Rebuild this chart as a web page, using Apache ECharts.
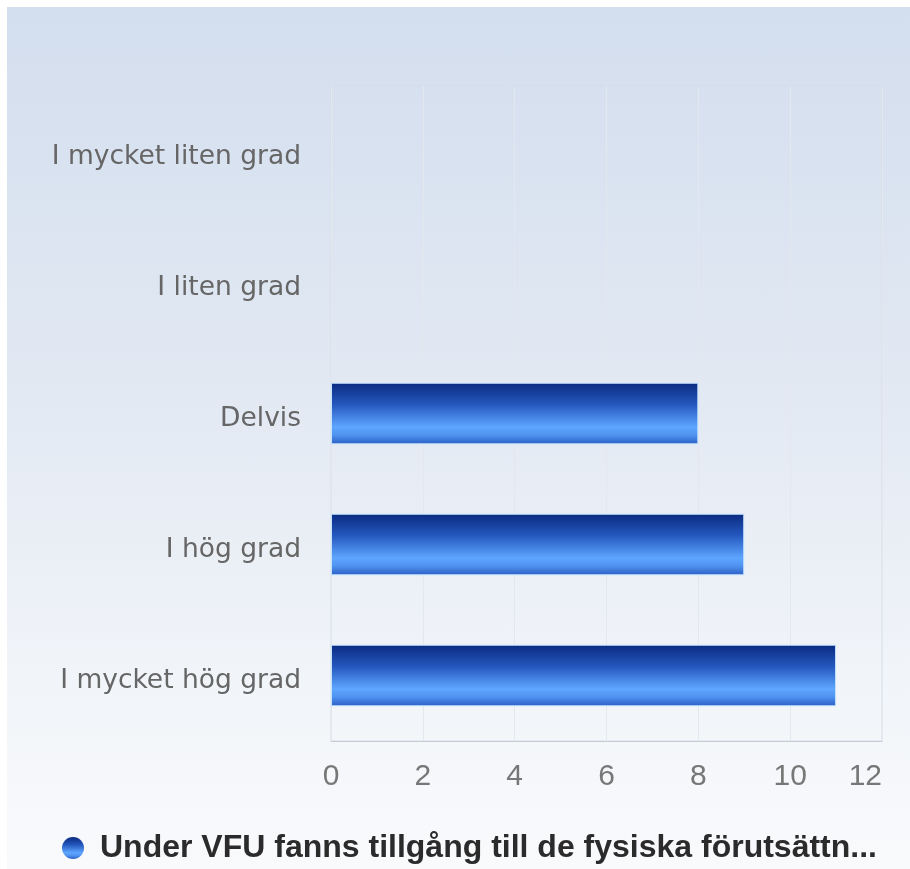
<!DOCTYPE html>
<html>
<head>
<meta charset="utf-8">
<script src="https://cdn.jsdelivr.net/npm/echarts@6/dist/echarts.min.js"></script>
<style>
  html, body { margin: 0; padding: 0; background: #ffffff; }
  #bg { position: absolute; left: 7px; top: 7px; width: 903px; height: 862px;
        background: linear-gradient(to bottom, #d3deee 0%, #e2e9f3 45%, #f2f5f9 80%, #f9fafc 100%); }
  #chart { position: absolute; left: 0; top: 0; width: 910px; height: 869px; }
</style>
</head>
<body>
<div id="bg"></div>
<div id="chart"></div>
<script>
const categories = ['I mycket liten grad', 'I liten grad', 'Delvis', 'I hög grad', 'I mycket hög grad'];
const values = [0, 0, 8, 9, 11];
const seriesName = 'Under VFU fanns tillgång till de fysiska förutsättn...';
const xTicks = { min: 0, max: 12, interval: 2 };

const chart = echarts.init(document.getElementById('chart'), null, { renderer: 'canvas' });
const barGradient = new echarts.graphic.LinearGradient(0, 0, 0, 1, [
  { offset: 0, color: '#0a2a80' },
  { offset: 0.35, color: '#2457bd' },
  { offset: 0.72, color: '#5ea6ff' },
  { offset: 0.85, color: '#4f92ef' },
  { offset: 1, color: '#2a5ec4' }
]);
const barData = values.map(v => ({
  value: v,
  itemStyle: v === 0 ? { borderWidth: 0 } : {}
}));
chart.setOption({
  backgroundColor: 'transparent',
  animation: false,
  grid: {
    left: 331, right: 28, top: 86, bottom: 128,
    show: true, borderColor: '#d6dde7', borderWidth: 1, backgroundColor: 'transparent'
  },
  legend: {
    left: 57, top: 827,
    icon: 'circle', itemWidth: 22, itemHeight: 22,
    itemStyle: { borderWidth: 0 },
    textStyle: { fontFamily: 'Liberation Sans', fontWeight: 'bold', fontSize: 32, color: '#2b2b2b', padding: [0, 0, 0, 11] },
    data: [seriesName]
  },
  xAxis: {
    type: 'value', min: xTicks.min, max: xTicks.max, interval: xTicks.interval,
    axisLine: { show: true, lineStyle: { color: '#c4ccd8', width: 1 } },
    axisTick: { show: false },
    splitLine: { show: true, lineStyle: { color: '#e3e8ef', width: 1 } },
    axisLabel: { margin: 21, fontFamily: 'Liberation Sans', fontSize: 30, color: '#777777', alignMaxLabel: 'right' }
  },
  yAxis: {
    type: 'category', data: categories, inverse: true,
    axisLine: { show: false }, axisTick: { show: false }, splitLine: { show: false },
    axisLabel: {
      margin: 30,
      formatter: '{a|{value}}',
      rich: { a: { fontFamily: 'DejaVu Sans', fontSize: 26.5, color: '#666666', padding: [12, 0, 0, 0] } }
    }
  },
  series: [{
    name: seriesName,
    type: 'bar',
    data: barData,
    barWidth: '47%',
    itemStyle: { color: barGradient, borderColor: '#c4e4ff', borderWidth: 1 }
  }]
});
</script>
</body>
</html>
